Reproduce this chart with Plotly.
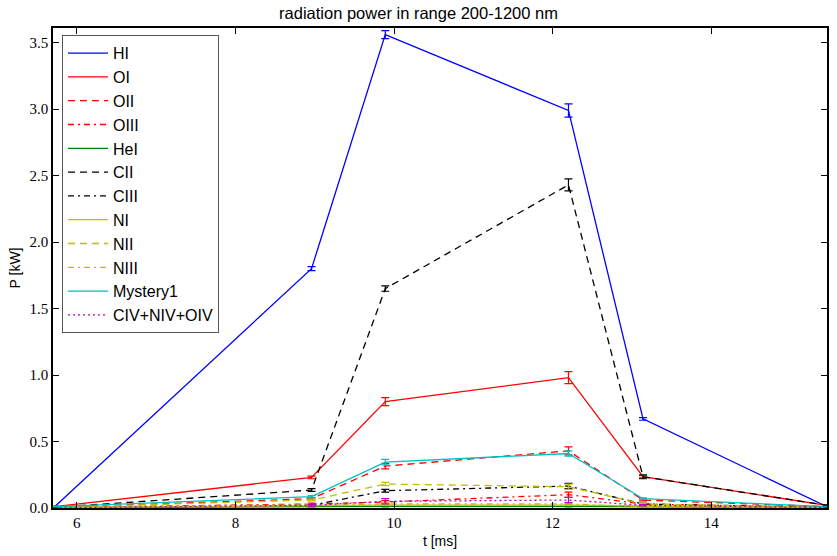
import plotly.graph_objects as go

t_ms = [5.72, 8.96, 9.89, 12.20, 13.14, 15.46]

names = ["HI", "OI", "OII", "OIII", "HeI", "CII", "CIII", "NI", "NII", "NIII", "Mystery1", "CIV+NIV+OIV"]

HI = [0.01, 1.80, 3.56, 2.99, 0.67, 0.01]
OI = [0.01, 0.23, 0.80, 0.98, 0.235, 0.02]
OII = [0.005, 0.07, 0.315, 0.43, 0.06, 0.01]
OIII = [0.004, 0.03, 0.045, 0.10, 0.03, 0.005]
HeI = [0.002, 0.01, 0.012, 0.012, 0.008, 0.002]
CII = [0.005, 0.135, 1.65, 2.43, 0.235, 0.02]
CIII = [0.003, 0.02, 0.13, 0.165, 0.03, 0.005]
NI = [0.003, 0.02, 0.022, 0.022, 0.015, 0.003]
NII = [0.005, 0.06, 0.18, 0.16, 0.03, 0.005]
NIII = [0.003, 0.02, 0.03, 0.03, 0.01, 0.003]
Mystery1 = [0.01, 0.085, 0.345, 0.41, 0.07, 0.01]
CNO_IV = [0.002, 0.02, 0.05, 0.06, 0.02, 0.003]

HI_err = [0.002, 0.015, 0.03, 0.05, 0.01, 0.002]
OI_err = [0.002, 0.01, 0.03, 0.045, 0.008, 0.002]
OII_err = [0.002, 0.008, 0.02, 0.03, 0.006, 0.002]
OIII_err = [0.001, 0.006, 0.01, 0.02, 0.005, 0.001]
HeI_err = [0.001, 0.002, 0.003, 0.003, 0.002, 0.001]
CII_err = [0.002, 0.01, 0.02, 0.045, 0.015, 0.002]
CIII_err = [0.001, 0.005, 0.01, 0.02, 0.005, 0.001]
NI_err = [0.001, 0.003, 0.003, 0.003, 0.002, 0.001]
NII_err = [0.001, 0.006, 0.012, 0.02, 0.005, 0.001]
NIII_err = [0.001, 0.004, 0.006, 0.006, 0.003, 0.001]
Mystery1_err = [0.002, 0.008, 0.02, 0.02, 0.006, 0.002]
CNO_IV_err = [0.001, 0.006, 0.02, 0.02, 0.005, 0.001]

values = [HI, OI, OII, OIII, HeI, CII, CIII, NI, NII, NIII, Mystery1, CNO_IV]
errors = [HI_err, OI_err, OII_err, OIII_err, HeI_err, CII_err, CIII_err, NI_err, NII_err, NIII_err, Mystery1_err, CNO_IV_err]

colors = ["#0000ff", "#ff0000", "#ff0000", "#ff0000", "#008000", "#000000", "#000000",
          "#bfbf00", "#bfbf00", "#bfbf00", "#00bfbf", "#bf00bf"]
SOLID = "solid"
DASH = "7px,5px"
DASHDOT = "6px,4px,2px,4px"
DOT = "2px,3px"
dashes = [SOLID, SOLID, DASH, DASHDOT, SOLID, DASH, DASHDOT, SOLID, DASH, DASHDOT, SOLID, DOT]

fig = go.Figure()
for name, y, e, c, d in zip(names, values, errors, colors, dashes):
    fig.add_trace(go.Scatter(
        x=t_ms, y=y, name=name, mode="lines",
        line=dict(color=c, width=1.3, dash=d),
        error_y=dict(type="data", array=e, visible=True, color=c, thickness=1.2, width=4),
    ))

tickfont = dict(family="Liberation Serif, DejaVu Serif, serif", size=15, color="black")
fig.update_layout(
    width=837, height=556,
    margin=dict(l=53, r=8, t=28, b=48),
    paper_bgcolor="white", plot_bgcolor="white",
    title=dict(text="radiation power in range 200-1200 nm", x=0.5, xanchor="center",
               y=1, yanchor="top", pad=dict(t=7),
               font=dict(family="Liberation Sans, Arial, sans-serif", size=16.5, color="black")),
    font=dict(family="Liberation Sans, Arial, sans-serif", size=14, color="black"),
    showlegend=True,
    legend=dict(x=0.0116, y=0.985, xanchor="left", yanchor="top",
                bgcolor="white", bordercolor="#555555", borderwidth=1,
                font=dict(family="Liberation Sans, Arial, sans-serif", size=16, color="black"),
                tracegroupgap=0, itemwidth=40),
)
fig.update_xaxes(
    range=[5.70, 15.46], tickvals=[6, 8, 10, 12, 14], ticktext=["6", "8", "10", "12", "14"],
    showgrid=False, zeroline=False, showline=True, linecolor="black", linewidth=1.5,
    mirror="ticks", ticks="inside", ticklen=6, tickcolor="black", tickfont=tickfont,
    title=dict(text="t [ms]", standoff=6, font=dict(size=14)),
)
fig.update_yaxes(
    range=[0, 3.61], tickvals=[0, 0.5, 1.0, 1.5, 2.0, 2.5, 3.0, 3.5],
    ticktext=["0.0", "0.5", "1.0", "1.5", "2.0", "2.5", "3.0", "3.5"],
    showgrid=False, zeroline=False, showline=True, linecolor="black", linewidth=1.5,
    mirror="ticks", ticks="inside", ticklen=6, tickcolor="black", tickfont=tickfont,
    title=dict(text="P [kW]", standoff=6, font=dict(size=14)),
)

fig.write_html("out.html", config={"displayModeBar": False},
               post_script="document.body.style.margin='0';")
